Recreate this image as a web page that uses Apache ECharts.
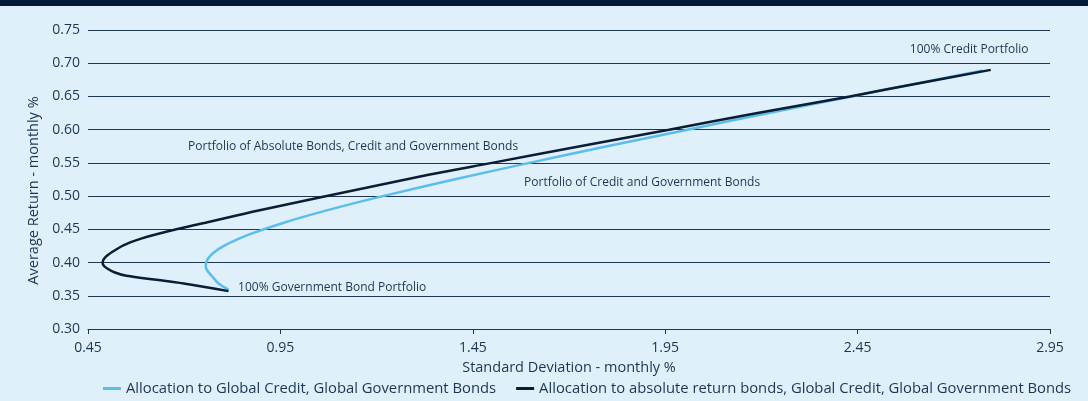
<!DOCTYPE html>
<html>
<head>
<meta charset="utf-8">
<script src="https://cdn.jsdelivr.net/npm/echarts@6/dist/echarts.min.js"></script>
<style>
  html, body { margin: 0; padding: 0; background: #dff0fa; }
  #chart { width: 1088px; height: 401px; }
</style>
</head>
<body>
<div id="chart"></div>
<script>
// x ticks (std dev, monthly %)
const xTicks = [0.45, 0.95, 1.45, 1.95, 2.45, 2.95];

// [std dev, avg return], from 100% gov bonds to 100% credit
const creditGov = [
  [0.816, 0.359], [0.790, 0.368], [0.773, 0.379], [0.760, 0.388], [0.756, 0.395],
  [0.761, 0.405], [0.777, 0.415], [0.803, 0.425], [0.838, 0.435], [0.882, 0.445],
  [0.959, 0.460], [1.080, 0.480], [1.216, 0.500], [1.401, 0.525], [1.597, 0.550],
  [1.799, 0.575], [2.008, 0.600], [2.219, 0.625], [2.434, 0.650], [2.607, 0.670],
  [2.775, 0.689]
];
const absCreditGov = [
  [0.815, 0.357], [0.715, 0.367], [0.628, 0.374], [0.550, 0.380], [0.520, 0.385],
  [0.500, 0.391], [0.489, 0.397], [0.488, 0.401], [0.495, 0.408], [0.508, 0.414],
  [0.542, 0.426], [0.588, 0.436], [0.672, 0.449], [0.755, 0.460], [0.822, 0.469],
  [0.890, 0.478], [1.061, 0.499], [1.335, 0.532], [1.500, 0.550], [1.729, 0.575],
  [1.960, 0.600], [2.190, 0.625], [2.430, 0.650], [2.610, 0.670], [2.796, 0.690]
];

const seriesNames = [
  'Allocation to Global Credit, Global Government Bonds',
  'Allocation to absolute return bonds, Global Credit, Global Government Bonds'
];

// annotation text and the data point it sits at
const notes = [
  { text: '100% Credit Portfolio', at: [2.74, 0.72], align: 'center' },
  { text: 'Portfolio of Absolute Bonds, Credit and Government Bonds', at: [1.139, 0.575], align: 'center' },
  { text: 'Portfolio of Credit and Government Bonds', at: [1.89, 0.521], align: 'center' },
  { text: '100% Government Bond Portfolio', at: [0.84, 0.362], align: 'left' }
];

const ink = '#1c3551';
const font = '"Open Sans", "Noto Sans", sans-serif';

const chart = echarts.init(document.getElementById('chart'));

const option = {
  backgroundColor: '#dff0fa',
  textStyle: { fontFamily: font, color: ink },
  animation: false,
  graphic: [{
    type: 'rect',
    left: 0, top: 0,
    shape: { width: 1088, height: 6 },
    style: { fill: '#001b35' }
  }],
  grid: { left: 88, right: 38, top: 30, bottom: 72, containLabel: false, outerBoundsMode: 'none' },
  legend: {
    left: 98,
    bottom: 0,
    itemWidth: 18,
    itemHeight: 3,
    itemGap: 20,
    icon: 'rect',
    textStyle: { fontFamily: font, fontSize: 14.8, color: ink },
    data: seriesNames
  },
  xAxis: {
    type: 'value',
    min: xTicks[0],
    max: xTicks[xTicks.length - 1],
    name: 'Standard Deviation - monthly %',
    nameLocation: 'middle',
    nameGap: 28,
    nameTextStyle: { fontSize: 14.5, color: ink },
    axisLine: { lineStyle: { color: ink, width: 1 } },
    axisTick: { show: true, length: 5, customValues: xTicks, lineStyle: { color: ink } },
    axisLabel: {
      customValues: xTicks,
      fontSize: 14, color: ink, margin: 12,
      formatter: v => v.toFixed(2)
    },
    splitLine: { show: false }
  },
  yAxis: {
    type: 'value',
    min: 0.30,
    max: 0.75,
    interval: 0.05,
    name: 'Average Return - monthly %',
    nameLocation: 'middle',
    nameGap: 44,
    nameTextStyle: { fontSize: 14.5, color: ink, padding: [0, 22, 0, 0] },
    axisLine: { show: false },
    axisTick: { show: false },
    axisLabel: { fontSize: 14, color: ink, margin: 8, formatter: v => v.toFixed(2) },
    splitLine: { lineStyle: { color: ink, width: 1 } }
  },
  series: [
    {
      name: seriesNames[0],
      type: 'line',
      data: creditGov,
      smooth: 0.35,
      showSymbol: false,
      lineStyle: { color: '#5bbdec', width: 2.5 },
      itemStyle: { color: '#5bbdec' },
      z: 3
    },
    {
      name: seriesNames[1],
      type: 'line',
      data: absCreditGov,
      smooth: 0.35,
      showSymbol: false,
      lineStyle: { color: '#0a1d33', width: 2.5 },
      itemStyle: { color: '#0a1d33' },
      z: 4,
      markPoint: {
        symbol: 'circle',
        symbolSize: 0,
        silent: true,
        data: notes.map(n => ({
          coord: n.at,
          label: {
            show: true,
            formatter: n.text,
            position: n.align === 'left' ? 'right' : 'inside',
            distance: 0,
            fontFamily: font,
            fontSize: 12,
            color: ink
          }
        }))
      }
    }
  ]
};

chart.setOption(option);
</script>
</body>
</html>
